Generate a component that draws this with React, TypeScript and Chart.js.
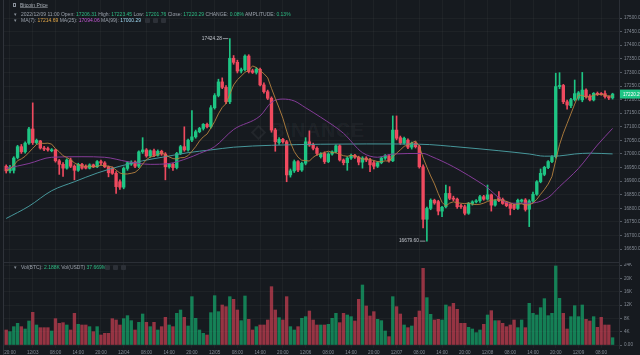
import React, { useEffect, useRef } from 'react';
import { Chart, registerables } from 'chart.js';

Chart.register(...registerables);

// ---- time axis: hourly candles, first one is 12/02 19:00 ----
const START_DAY = 2;
const START_HOUR = 19;

// ---- OHLC (hourly BTC/USDT) ----
const opens = [
  16955, 16938, 16940, 16987, 17027, 17008, 17040, 17092, 17042, 17048,
  17022, 17020, 17012, 17015, 16975, 16962, 16948, 16978, 16955, 16940,
  16962, 16955, 16948, 16960, 16953, 16972, 16967, 16953, 16948, 16929,
  16898, 16878, 16947, 16963, 16970, 16955, 17008, 17015, 16993, 17012,
  16995, 17010, 17000, 16953, 16962, 16950, 17002, 17027, 17015, 17051,
  17063, 17082, 17094, 17109, 17100, 17170, 17215, 17265, 17245, 17192,
  17352, 17337, 17305, 17310, 17360, 17306, 17300, 17311, 17254, 17229,
  17205, 17088, 17042, 17054, 17045, 16923, 16938, 16972, 16941, 16966,
  17045, 17033, 17021, 16990, 17002, 16972, 17000, 17008, 17030, 16978,
  16968, 16985, 16995, 16988, 16970, 16985, 16978, 16968, 16955, 16968,
  16985, 16993, 16975, 17088, 17060, 17040, 17051, 17025, 17040, 17027,
  16953, 16760, 16800, 16830, 16825, 16790, 16806, 16855, 16837, 16834,
  16810, 16806, 16782, 16818, 16824, 16828, 16843, 16834, 16850, 16812,
  16840, 16833, 16822, 16815, 16812, 16800, 16826, 16831, 16797, 16827,
  16852, 16898, 16925, 16950, 16972, 16990, 17248, 17252, 17192, 17178,
  17200, 17205, 17199, 17235, 17213, 17199, 17223, 17222, 17222, 17211,
  17206.31,
];
const highs = [
  16960, 16958, 16990, 17032, 17035, 17045, 17098, 17188, 17055, 17050,
  17028, 17025, 17020, 17018, 16980, 16968, 16982, 16985, 16960, 16966,
  16966, 16960, 16964, 16963, 16976, 16978, 16972, 16956, 16952, 16935,
  16905, 16952, 16972, 16975, 16975, 17012, 17060, 17020, 17015, 17018,
  17015, 17014, 17005, 16966, 16966, 17006, 17032, 17100, 17055, 17160,
  17088, 17098, 17112, 17114, 17178, 17222, 17275, 17280, 17252, 17424.28,
  17362, 17345, 17316, 17365, 17365, 17312, 17318, 17316, 17262, 17235,
  17210, 17094, 17060, 17058, 17050, 16945, 16978, 16976, 16970, 17060,
  17085, 17040, 17026, 17005, 17008, 17005, 17012, 17034, 17034, 16982,
  16990, 17000, 16999, 16992, 16990, 16990, 16984, 16975, 16972, 16990,
  16998, 16998, 17140, 17140, 17066, 17062, 17056, 17044, 17045, 17032,
  16960, 16805, 16835, 16834, 16830, 16808, 16886, 16880, 16845, 16838,
  16815, 16812, 16822, 16828, 16832, 16848, 16848, 16886, 16853, 16832,
  16862, 16838, 16826, 16818, 16816, 16834, 16834, 16836, 16832, 16860,
  16902, 16945, 16955, 16976, 16994, 17297, 17299, 17256, 17198, 17205,
  17272, 17230, 17300, 17240, 17218, 17226, 17228, 17226, 17232, 17214,
  17223.45,
];
const lows = [
  16930, 16930, 16930, 16982, 17002, 17003, 17035, 17035, 17036, 17018,
  17012, 17010, 17008, 16970, 16925, 16918, 16944, 16950, 16905, 16936,
  16944, 16945, 16945, 16950, 16950, 16960, 16950, 16916, 16925, 16855,
  16870, 16872, 16940, 16958, 16950, 16950, 17002, 16988, 16988, 16990,
  16992, 16995, 16905, 16948, 16940, 16945, 16998, 17010, 17010, 17045,
  17058, 17078, 17088, 17096, 17095, 17165, 17210, 17240, 17185, 17185,
  17330, 17298, 17298, 17305, 17298, 17296, 17294, 17250, 17224, 17200,
  17080, 17010, 17035, 17040, 16898, 16915, 16932, 16935, 16936, 16960,
  17028, 17015, 16995, 16985, 16965, 16968, 16996, 17004, 16974, 16960,
  16940, 16980, 16984, 16960, 16948, 16972, 16935, 16945, 16950, 16964,
  16980, 16970, 16972, 17052, 17035, 17036, 17020, 17018, 17022, 16948,
  16728, 16679.6, 16795, 16815, 16776, 16770, 16802, 16832, 16828, 16800,
  16800, 16776, 16778, 16812, 16820, 16822, 16830, 16830, 16790, 16808,
  16825, 16815, 16806, 16776, 16795, 16796, 16822, 16790, 16733, 16822,
  16848, 16894, 16920, 16946, 16968, 16985, 17240, 17185, 17165, 17170,
  17195, 17198, 17192, 17205, 17195, 17195, 17215, 17216, 17205, 17200,
  17201.76,
];
const closes = [
  16938, 16952, 16985, 17027, 17008, 17040, 17092, 17042, 17050, 17022,
  17018, 17015, 17015, 16975, 16962, 16948, 16978, 16955, 16940, 16962,
  16948, 16948, 16960, 16953, 16972, 16967, 16953, 16931, 16929, 16880,
  16878, 16947, 16968, 16970, 16955, 17008, 17015, 16993, 17012, 16995,
  17010, 17000, 16953, 16962, 16950, 17002, 17027, 17015, 17051, 17063,
  17082, 17094, 17109, 17100, 17170, 17215, 17265, 17245, 17192, 17352,
  17337, 17305, 17310, 17360, 17303, 17300, 17311, 17254, 17229, 17205,
  17088, 17045, 17054, 17045, 16923, 16938, 16972, 16941, 16966, 17045,
  17033, 17021, 17002, 17000, 16972, 17000, 17008, 17030, 16978, 16968,
  16985, 16995, 16988, 16970, 16985, 16978, 16960, 16955, 16968, 16985,
  16993, 16975, 17088, 17058, 17040, 17058, 17025, 17040, 17027, 16953,
  16760, 16800, 16830, 16820, 16790, 16804, 16855, 16837, 16834, 16806,
  16806, 16782, 16818, 16824, 16828, 16843, 16834, 16850, 16812, 16828,
  16828, 16818, 16810, 16800, 16800, 16830, 16831, 16796, 16827, 16852,
  16898, 16929, 16951, 16972, 16990, 17248, 17252, 17192, 17180, 17200,
  17222, 17225, 17235, 17211, 17199, 17223, 17219, 17219, 17211, 17206,
  17220.29,
];
// ---- volume (BTC) ----
const volumes = [
  4500, 4000, 5500, 6500, 5500, 4800, 7200, 9800, 6000, 5200,
  5200, 5200, 4200, 7900, 6500, 6700, 6000, 4500, 9500, 6200,
  6000, 6000, 5500, 4000, 5500, 3000, 3500, 3500, 7900, 7500,
  6000, 7900, 8800, 7300, 4500, 6800, 9300, 6800, 5500, 6800,
  4500, 5500, 8300, 6000, 5500, 9500, 10500, 8300, 5700, 14500,
  8000, 4500, 3500, 3000, 9700, 14800, 10000, 12000, 11500, 14500,
  13700, 10500, 7300, 14700, 7700, 4500, 5500, 6000, 6000, 7500,
  17500, 10500, 8200, 7500, 14500, 5500, 4500, 5500, 8000, 8500,
  10200, 7500, 6000, 6000, 6000, 6200, 8000, 9500, 6700, 9500,
  9000, 8500, 7200, 13700, 18000, 11700, 8700, 10000, 7700, 7300,
  4200, 2500, 14500, 11500, 9300, 6000, 5200, 5700, 8300, 10200,
  23000, 14200, 9200, 7500, 7700, 7500, 12000, 11500, 12500, 10700,
  6500, 6500, 5300, 4800, 3700, 4500, 6200, 9000, 10300, 7300,
  7300, 6500, 5500, 6000, 7500, 5200, 7500, 5200, 12500, 9500,
  9000, 11200, 13900, 8800, 9500, 23700, 14000, 9500, 4800, 8500,
  11800, 8500, 12000, 7700, 7200, 8500, 5300, 8300, 6000, 6000,
  2188,
];

// ---- moving averages (candle index -> value) ----
const ma25At = [0, 6, 12, 20, 26, 32, 38, 43, 48, 51, 55, 60, 67, 70, 73, 76, 79, 83, 89, 94, 98, 102, 110, 112, 118, 126, 133, 138, 143, 146, 151, 156, 160];
const ma25Values = [16947, 16965, 16988, 16990, 16988, 16972, 16962, 16965, 16985, 17002, 17027, 17090, 17140, 17190, 17202, 17195, 17170, 17135, 17076, 17005, 16988, 17000, 17002, 16992, 16953, 16886, 16819, 16819, 16840, 16880, 16947, 17033, 17094.06];
const ma99At = [0, 6, 12, 18, 24, 30, 36, 42, 48, 54, 60, 70, 83, 95, 109, 120, 130, 138, 142, 146, 150, 154, 160];
const ma99Values = [16763, 16808, 16865, 16898, 16930, 16955, 16975, 16990, 17005, 17015, 17025, 17032, 17036, 17037, 17036, 17025, 17012, 17000, 16992, 16993, 17000, 17003, 17000.29];

// ---- axis ticks ----
const priceTicks = [16650, 16700, 16750, 16800, 16850, 16900, 16950, 17000, 17050, 17100, 17150, 17200, 17250, 17300, 17350, 17400, 17450, 17500];
const volTicks = [0, 4000, 8000, 12000, 16000, 20000, 24000];
const volTickLabels = ['0.00', '4K', '8K', '12K', '16K', '20K', '24K'];

// ---- header texts ----
const headerDate = '2022/12/09 11:00';
const headerMA7 = '17214.69';
const headerMA25 = '17094.06';
const headerMA99 = '17000.29';
const headerVolBTC = '2.188K';
const headerVolUSDT = '37.669M';

// ---- style ----
const BG = '#161a1f';
const GRID = 'rgba(255,255,255,0.035)';
const SEP = '#2b2f36';
const TICK = '#848b95';
const UP = '#1ec584';
const DOWN = '#ef4a5f';
const VOL_UP = 'rgba(20,190,120,0.62)';
const VOL_DOWN = 'rgba(236,70,92,0.6)';
const C_MA7 = '#b7823f';
const C_MA25 = '#853c98';
const C_MA99 = '#47979b';
const FONT = '"Liberation Sans", Arial, sans-serif';
const AXIS_FONT = 4.6;

const X_MIN = -0.58;
const X_MAX = 161.69;

const pad2 = (n: number) => (n < 10 ? '0' + n : '' + n);
const timeLabel = (i: number) => {
  const t = START_HOUR + i;
  const h = t % 24;
  const d = START_DAY + Math.floor(t / 24);
  return h === 2 ? `12/${pad2(d)}` : `${pad2(h)}:00`;
};
const tickIdx = closes.map((_, i) => i).filter((i) => (START_HOUR + i) % 24 % 6 === 2);

const isUp = (i: number) => closes[i] >= opens[i];

const xScale = (labels: boolean, h: number) => ({
  type: 'linear',
  min: X_MIN,
  max: X_MAX,
  offset: false,
  afterBuildTicks: (s: any) => {
    s.ticks = tickIdx.map((v) => ({ value: v }));
  },
  afterFit: (s: any) => {
    s.height = h;
    s.paddingLeft = 0;
    s.paddingRight = 0;
  },
  grid: { color: GRID, drawTicks: false, offset: false },
  border: { display: !labels, color: SEP },
  ticks: {
    display: labels,
    autoSkip: false,
    maxRotation: 0,
    padding: 2,
    color: TICK,
    font: { size: AXIS_FONT, family: FONT },
    callback: (v: number) => timeLabel(v),
  },
});

const markPlugin = {
  id: 'marks',
  afterDatasetsDraw(chart: any) {
    const { ctx, scales } = chart;
    const x = scales.x;
    const y = scales.y;
    let hi = 0;
    let lo = 0;
    highs.forEach((v, i) => { if (v > highs[hi]) hi = i; });
    lows.forEach((v, i) => { if (v < lows[lo]) lo = i; });
    ctx.save();
    ctx.font = `4.8px ${FONT}`;
    ctx.fillStyle = '#c3c7ce';
    ctx.strokeStyle = '#c3c7ce';
    ctx.lineWidth = 0.7;
    ctx.textAlign = 'right';
    ctx.textBaseline = 'middle';
    const marks = [
      [hi, highs[hi]],
      [lo, lows[lo]],
    ];
    marks.forEach(([i, v]) => {
      const px = x.getPixelForValue(i);
      const py = y.getPixelForValue(v);
      ctx.beginPath();
      ctx.moveTo(px - 7, py);
      ctx.lineTo(px - 1.5, py);
      ctx.stroke();
      ctx.fillText(v.toFixed(2), px - 8, py);
    });
    ctx.restore();
  },
  afterDraw(chart: any) {
    const { ctx, scales, chartArea } = chart;
    const last = closes.length - 1;
    const py = scales.y.getPixelForValue(closes[last]);
    ctx.save();
    ctx.fillStyle = UP;
    ctx.fillRect(chartArea.right + 1, py - 4.5, 30, 9);
    ctx.fillStyle = '#ffffff';
    ctx.font = `${AXIS_FONT}px ${FONT}`;
    ctx.textAlign = 'left';
    ctx.textBaseline = 'middle';
    ctx.fillText(closes[last].toFixed(2), chartArea.right + 4, py + 0.3);
    ctx.restore();
  },
};

function Txt({ x, y, color = '#9aa1ab', children, style }: any) {
  return (
    <div
      style={{
        position: 'absolute',
        left: x,
        top: y,
        fontSize: 10,
        lineHeight: '12px',
        transform: 'scale(0.5)',
        transformOrigin: '0 0',
        whiteSpace: 'nowrap',
        color,
        fontFamily: FONT,
        ...style,
      }}
    >
      {children}
    </div>
  );
}

const Box = ({ x, y }: any) => (
  <div style={{ position: 'absolute', left: x, top: y, width: 5, height: 5, background: '#2c3037', borderRadius: 1 }} />
);

export default function App() {
  const priceRef = useRef<HTMLCanvasElement>(null);
  const volRef = useRef<HTMLCanvasElement>(null);

  useEffect(() => {
    const idx = closes.map((_, i) => i);
    const candleColors = idx.map((i) => (isUp(i) ? UP : DOWN));
    const wickData = idx.map((i) => ({ x: i, y: [lows[i], highs[i]] }));
    const bodyData = idx.map((i) => ({ x: i, y: [Math.min(opens[i], closes[i]), Math.max(opens[i], closes[i])] }));
    const ma7Data = idx.map((i) => {
      const from = Math.max(0, i - 6);
      const win = closes.slice(from, i + 1);
      return { x: i, y: win.reduce((a, b) => a + b, 0) / win.length };
    });
    const ma25Data = ma25At.map((i, k) => ({ x: i, y: ma25Values[k] }));
    const ma99Data = ma99At.map((i, k) => ({ x: i, y: ma99Values[k] }));

    const price = new Chart(priceRef.current as HTMLCanvasElement, {
      type: 'bar',
      data: {
        datasets: [
          { type: 'bar', data: wickData as any, backgroundColor: candleColors, barThickness: 1, grouped: false, order: 4 } as any,
          { type: 'bar', data: bodyData as any, backgroundColor: candleColors, barThickness: 2.7, minBarLength: 1, grouped: false, order: 3 } as any,
          { type: 'line', data: ma99Data as any, borderColor: C_MA99, borderWidth: 1, pointRadius: 0, cubicInterpolationMode: 'monotone', order: 2 } as any,
          { type: 'line', data: ma25Data as any, borderColor: C_MA25, borderWidth: 1, pointRadius: 0, cubicInterpolationMode: 'monotone', order: 1 } as any,
          { type: 'line', data: ma7Data as any, borderColor: C_MA7, borderWidth: 0.9, pointRadius: 0, tension: 0, order: 0 } as any,
        ],
      },
      options: {
        animation: false,
        responsive: false,
        maintainAspectRatio: false,
        devicePixelRatio: 1,
        events: [],
        layout: { padding: { left: 4, right: 0, top: 0, bottom: 0 } },
        plugins: { legend: { display: false }, tooltip: { enabled: false } },
        scales: {
          x: xScale(false, 1) as any,
          y: {
            position: 'right',
            min: 16602.9,
            max: 17566.2,
            afterBuildTicks: (s: any) => {
              s.ticks = priceTicks.map((v) => ({ value: v }));
            },
            afterFit: (s: any) => {
              s.width = 21;
              s.paddingTop = 0;
              s.paddingBottom = 0;
            },
            grid: { color: GRID, tickColor: '#555b64', tickLength: 3, drawTicks: true },
            border: { display: true, color: SEP },
            ticks: {
              color: TICK,
              padding: 2,
              font: { size: AXIS_FONT, family: FONT },
              callback: (v: any) => Number(v).toFixed(2),
            },
          } as any,
        },
      },
      plugins: [markPlugin],
    } as any);

    const vol = new Chart(volRef.current as HTMLCanvasElement, {
      type: 'bar',
      data: {
        datasets: [
          {
            type: 'bar',
            data: idx.map((i) => ({ x: i, y: volumes[i] })) as any,
            backgroundColor: idx.map((i) => (isUp(i) ? VOL_UP : VOL_DOWN)),
            barThickness: 2.7,
            grouped: false,
          } as any,
        ],
      },
      options: {
        animation: false,
        responsive: false,
        maintainAspectRatio: false,
        devicePixelRatio: 1,
        events: [],
        layout: { padding: { left: 4, right: 0, top: 0, bottom: 0 } },
        plugins: { legend: { display: false }, tooltip: { enabled: false } },
        scales: {
          x: xScale(true, 7) as any,
          y: {
            position: 'right',
            min: -900,
            max: 24600,
            afterBuildTicks: (s: any) => {
              s.ticks = volTicks.map((v) => ({ value: v }));
            },
            afterFit: (s: any) => {
              s.width = 21;
              s.paddingTop = 0;
              s.paddingBottom = 0;
            },
            grid: { color: GRID, tickColor: '#555b64', tickLength: 3, drawTicks: true },
            border: { display: true, color: SEP },
            ticks: {
              color: TICK,
              padding: 2,
              font: { size: AXIS_FONT, family: FONT },
              callback: (v: any) => volTickLabels[volTicks.indexOf(Number(v))] ?? '',
            },
          } as any,
        },
      },
    } as any);

    return () => {
      price.destroy();
      vol.destroy();
    };
  }, []);

  const last = closes.length - 1;
  const o = opens[last];
  const change = (((closes[last] - o) / o) * 100).toFixed(2) + '%';
  const amp = (((highs[last] - lows[last]) / o) * 100).toFixed(2) + '%';
  const GT = '#2ebd85';

  return (
    <div style={{ position: 'fixed', left: 0, top: 0, width: 640, height: 355, background: BG, overflow: 'hidden' }}>
      {/* watermark (behind the chart canvases) */}
      <div style={{ position: 'absolute', left: 253, top: 127, width: 11, height: 11, border: '2.5px solid rgba(255,255,255,0.055)', transform: 'rotate(45deg)', boxSizing: 'border-box' }} />
      <div style={{ position: 'absolute', left: 270, top: 119, fontFamily: FONT, fontWeight: 700, fontSize: 20, letterSpacing: 0.5, color: 'rgba(255,255,255,0.055)' }}>BINANCE</div>

      <div style={{ position: 'absolute', left: 0, top: 0 }}>
        <canvas ref={priceRef} width={640} height={263} style={{ display: 'block', width: 640, height: 263 }} />
      </div>
      <div style={{ position: 'absolute', left: 0, top: 263 }}>
        <canvas ref={volRef} width={640} height={92} style={{ display: 'block', width: 640, height: 92 }} />
      </div>
      <div style={{ position: 'absolute', left: 3, top: 0, width: 1, height: 355, background: '#2f333a' }} />

      {/* header */}
      <div style={{ position: 'absolute', left: 13, top: 3, width: 3, height: 4, border: '0.8px solid #8a919b', boxSizing: 'border-box' }} />
      <Txt x={20} y={2} color="#aab0b8" style={{ textDecoration: 'underline' }}>Bitcoin Price</Txt>
      <Txt x={13.5} y={10.7} color="#8a919b">▾</Txt>
      <Txt x={20.5} y={10.7}>
        {headerDate} Open: <span style={{ color: GT }}>{opens[last].toFixed(2)}</span> High:{' '}
        <span style={{ color: GT }}>{highs[last].toFixed(2)}</span> Low: <span style={{ color: GT }}>{lows[last].toFixed(2)}</span> Close:{' '}
        <span style={{ color: GT }}>{closes[last].toFixed(2)}</span> CHANGE: <span style={{ color: GT }}>{change}</span> AMPLITUDE:{' '}
        <span style={{ color: GT }}>{amp}</span>
      </Txt>
      <Txt x={13.5} y={17.3} color="#8a919b">▾</Txt>
      <Txt x={20.5} y={17.3}>
        MA(7): <span style={{ color: '#e0a546' }}>{headerMA7}</span> MA(25): <span style={{ color: '#c659d6' }}>{headerMA25}</span> MA(99):{' '}
        <span style={{ color: '#9fd8f2' }}>{headerMA99}</span>
      </Txt>
      <Box x={145} y={18} />
      <Box x={153} y={18} />
      <Box x={161} y={18} />

      <Txt x={13.5} y={264.3} color="#8a919b">▾</Txt>
      <Txt x={20.5} y={264.3}>
        Vol(BTC): <span style={{ color: GT }}>{headerVolBTC}</span> Vol(USDT) <span style={{ color: GT }}>{headerVolUSDT}</span>
      </Txt>
      <Box x={105} y={265} />
      <Box x={113} y={265} />
      <Box x={121} y={265} />
    </div>
  );
}
